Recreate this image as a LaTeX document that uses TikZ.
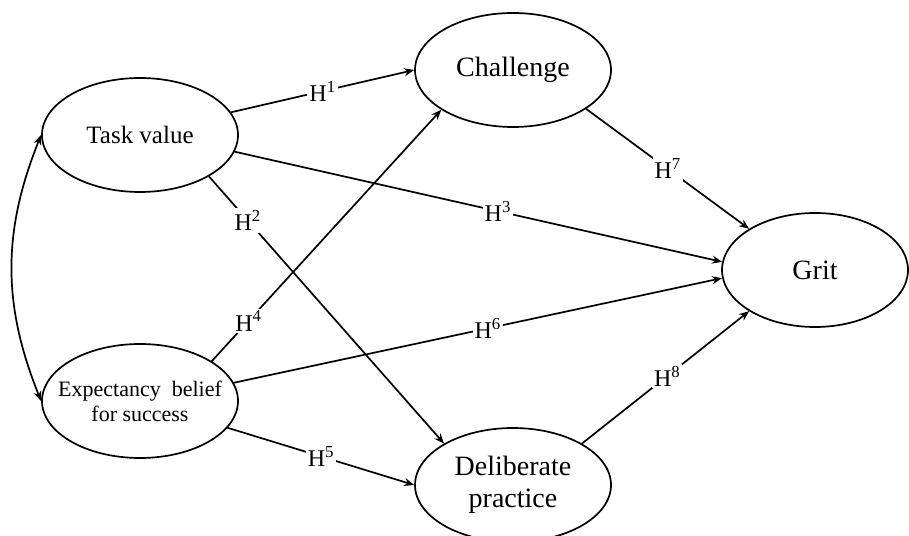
\documentclass[tikz,border=0pt]{standalone}
\usepackage{fontspec}
\setmainfont{Liberation Serif}
\usetikzlibrary{shapes.geometric,arrows.meta}
\begin{document}
\begin{tikzpicture}[x=1pt,y=1pt,line join=round,line cap=round,>={Stealth[length=10pt,width=8pt]},
	latent/.style={ellipse,draw,line width=1.7pt,minimum width=196pt,minimum height=114pt,inner sep=0pt,align=center},
	hyp/.style={fill=white,inner sep=2pt,font=\fontsize{24}{24}\selectfont}]
	\useasboundingbox (0,0) rectangle (909,535);
	\path
	(140,400) node[latent,font=\fontsize{25}{30}\selectfont] (tv) {Task value}
	(140,134) node[latent,inner xsep=-25pt,font=\fontsize{22}{25}\selectfont] (ep) {Expectancy\ \ belief\\for success}
	(513,465) node[latent,font=\fontsize{28}{32}\selectfont] (ch) {Challenge}
	(513,50) node[latent,font=\fontsize{28}{32}\selectfont] (dp) {Deliberate\\practice}
	(815,265) node[latent,minimum width=186pt,font=\fontsize{28}{32}\selectfont] (gr) {Grit};
	\draw[<->,line width=1.7pt] (tv.west) to[out=248,in=112] (ep.west);
	\foreach \a/\b/\h/\p in {tv.14/ch.west/1/0.5, tv.-31/dp.149/2/0.165, tv.-10/gr.175/3/0.54, ep.29/ch.209/4/0.16, ep.-17/dp.west/5/0.5, ep.11/gr.185/6/0.52, ch.-28/gr.148/7/0.5, dp.31/gr.212/8/0.51}{
		\draw[->,line width=1.7pt] (\a) -- (\b) node[hyp,pos=\p] {H\textsuperscript{\h}};
	}
\end{tikzpicture}
\end{document}
